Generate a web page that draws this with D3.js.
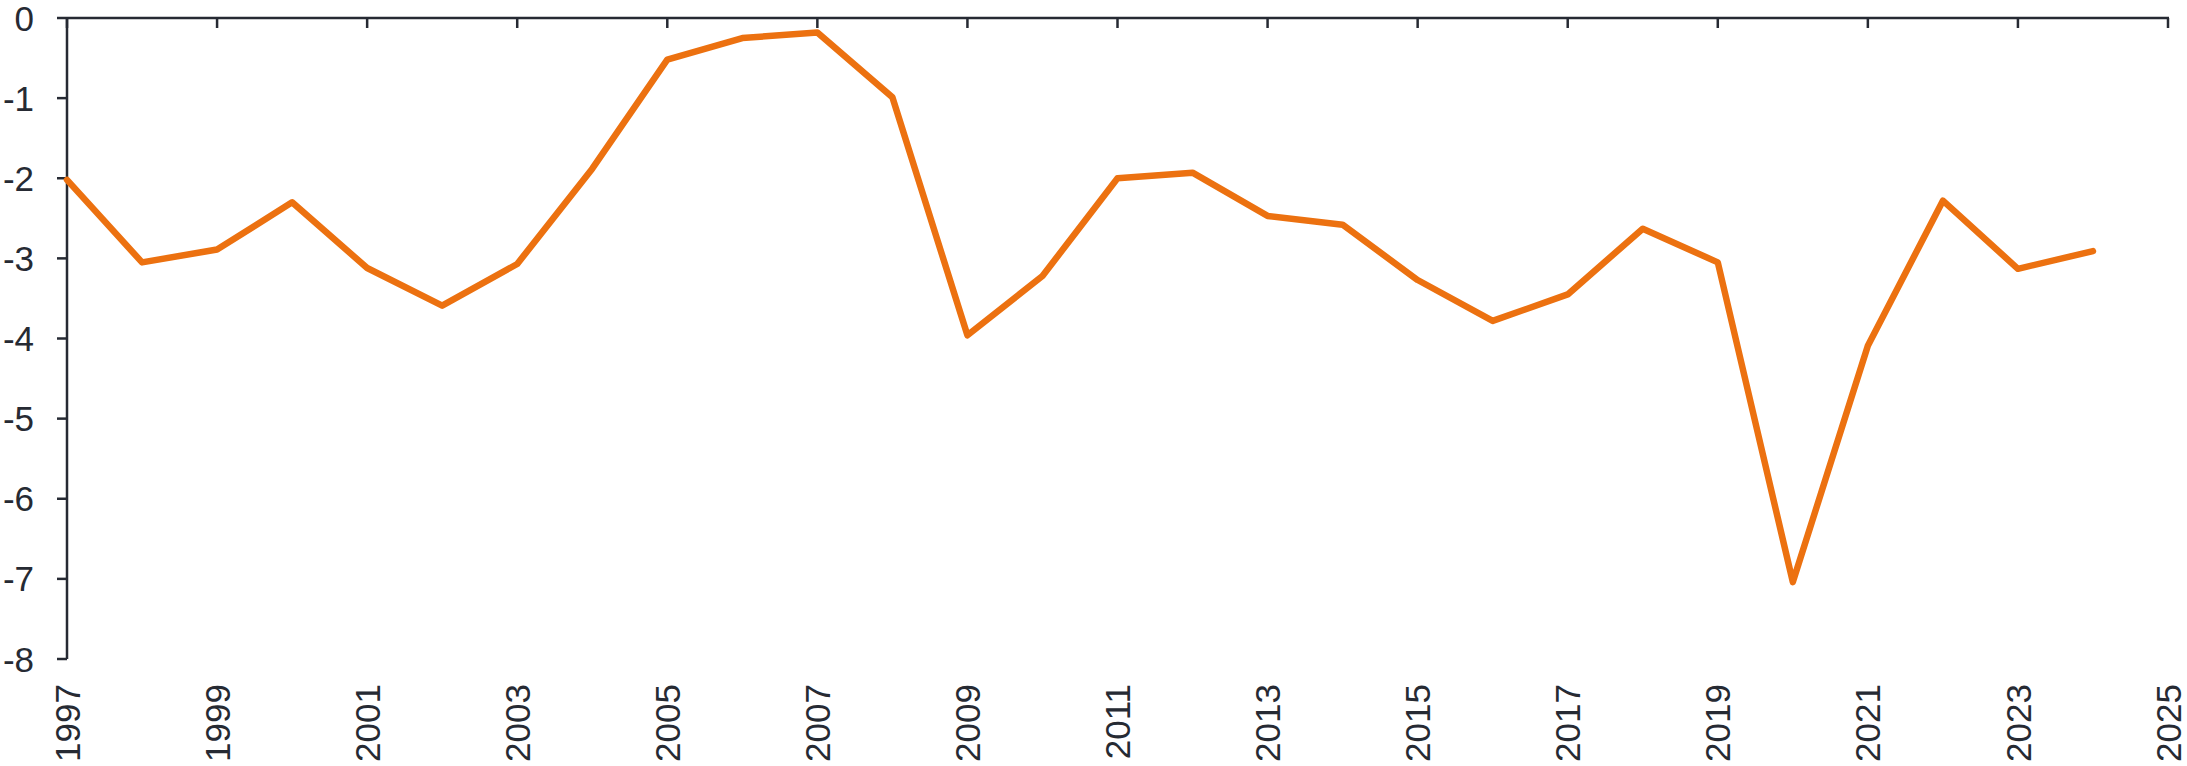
<!DOCTYPE html>
<html><head><meta charset="utf-8">
<script src="https://cdn.jsdelivr.net/npm/d3@7"></script>
<style>body{margin:0;background:#fff}svg{display:block}text{font-family:"Liberation Sans",Arial,sans-serif}</style>
</head><body><svg id="c" width="2187" height="766"></svg>
<script>
const years = [1997,1998,1999,2000,2001,2002,2003,2004,2005,2006,2007,2008,2009,2010,2011,2012,2013,2014,2015,2016,2017,2018,2019,2020,2021,2022,2023,2024];
const values = [-2.02,-3.05,-2.89,-2.30,-3.12,-3.59,-3.07,-1.88,-0.52,-0.25,-0.18,-0.99,-3.96,-3.22,-2.00,-1.93,-2.47,-2.58,-3.27,-3.78,-3.45,-2.63,-3.05,-7.04,-4.09,-2.28,-3.13,-2.91];
const xTicks = [1997,1999,2001,2003,2005,2007,2009,2011,2013,2015,2017,2019,2021,2023,2025];
const yTicks = [0,-1,-2,-3,-4,-5,-6,-7,-8];

const svg = d3.select("#c");
const axisColor = "#262a33";
const x = d3.scaleLinear().domain([1997,2025]).range([67,2168]);
const y = d3.scaleLinear().domain([-8,0]).range([659,18]);

// top axis line
svg.append("line").attr("x1",x(1997)).attr("x2",x(2025)+1).attr("y1",y(0)).attr("y2",y(0))
  .attr("stroke",axisColor).attr("stroke-width",2.5);
// x ticks (down from top)
svg.selectAll(".xt").data(xTicks).join("line")
  .attr("x1",d=>x(d)).attr("x2",d=>x(d)).attr("y1",y(0)).attr("y2",y(0)+10)
  .attr("stroke",axisColor).attr("stroke-width",2.5);
// y axis
svg.append("line").attr("x1",x(1997)).attr("x2",x(1997)).attr("y1",y(0)).attr("y2",y(-8))
  .attr("stroke",axisColor).attr("stroke-width",2.5);
svg.selectAll(".yt").data(yTicks).join("line")
  .attr("x1",x(1997)-10).attr("x2",x(1997)).attr("y1",d=>y(d)).attr("y2",d=>y(d))
  .attr("stroke",axisColor).attr("stroke-width",2.5);
svg.selectAll(".yl").data(yTicks).join("text")
  .attr("x",34).attr("y",d=>y(d)).attr("dy","0.36em").attr("text-anchor","end")
  .attr("font-size",35).attr("fill",axisColor).text(d=>d);
// x labels rotated
svg.selectAll(".xl").data(xTicks).join("text")
  .attr("transform",d=>`translate(${x(d)},684) rotate(-90)`)
  .attr("dy","0.36em").attr("text-anchor","end")
  .attr("font-size",35).attr("fill",axisColor).text(d=>d);

const line = d3.line().x((d,i)=>x(years[i])).y(d=>y(d));
svg.append("path").datum(values).attr("d",line).attr("fill","none")
  .attr("stroke","#ec7110").attr("stroke-width",6.5)
  .attr("stroke-linejoin","round").attr("stroke-linecap","round");
</script></body></html>
